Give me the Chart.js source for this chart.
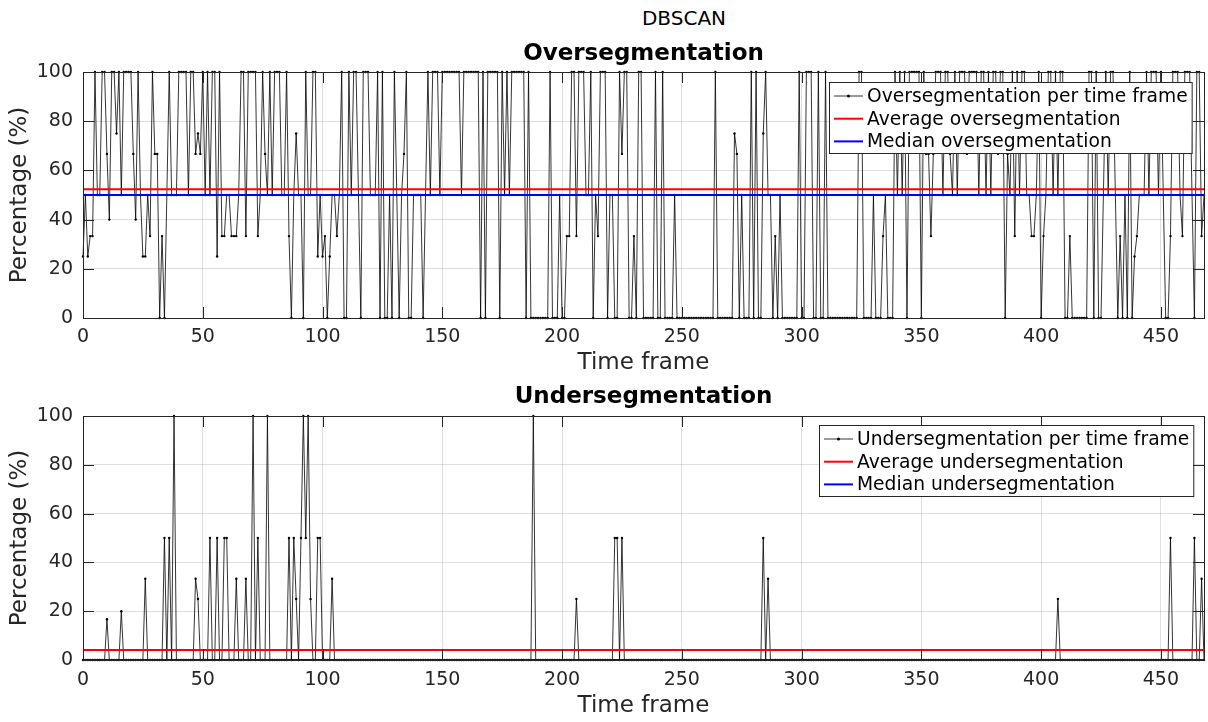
<!DOCTYPE html>
<html>
<head>
<meta charset="utf-8">
<script src="https://cdn.jsdelivr.net/npm/chart.js@4.4.0/dist/chart.umd.min.js"></script>
<style>
body{margin:0;background:#fff;width:1208px;height:722px;overflow:hidden;position:relative;font-family:"DejaVu Sans",sans-serif}
#suptitle{position:absolute;left:484px;top:6px;width:400px;text-align:center;font-size:20px;line-height:24px;color:#000}
.holder{position:absolute;left:0;width:1208px}
</style>
</head>
<body>
<div id="suptitle">DBSCAN</div>
<div class="holder" style="top:30px;height:350px"><canvas id="over" width="1208" height="350"></canvas></div>
<div class="holder" style="top:380px;height:342px"><canvas id="under" width="1208" height="342"></canvas></div>
<script>
// values, one per time frame (0..468)
var overPct = [
  25,50,25,33.3,33.3,100,50,50,100,100,66.7,40,100,100,75,100,50,100,100,100,
  100,66.7,40,100,50,25,25,50,33.3,100,66.7,66.7,0,33.3,0,50,100,50,50,50,
  100,100,100,100,50,100,100,66.7,75,66.7,100,50,100,50,100,100,25,100,33.3,33.3,
  50,50,33.3,33.3,33.3,50,100,100,33.3,100,100,100,100,33.3,50,100,66.7,50,100,50,
  100,100,100,50,50,100,33.3,0,50,75,50,50,0,100,50,50,100,100,25,50,
  25,33.3,0,25,50,50,33.3,50,100,0,0,100,50,100,100,50,0,100,100,100,
  50,50,50,100,0,100,0,0,50,0,100,50,0,50,66.7,100,0,0,50,50,
  50,50,0,50,100,50,100,100,100,50,100,100,100,100,100,100,100,100,50,100,
  100,100,100,100,100,100,0,100,0,100,100,100,100,100,0,100,50,100,50,100,
  100,100,100,100,100,0,100,0,0,0,0,0,0,0,0,100,0,0,0,50,
  0,0,33.3,33.3,100,100,33.3,100,100,100,50,50,100,0,50,33.3,100,100,100,0,
  50,50,0,0,100,66.7,100,100,0,0,33.3,0,100,100,0,0,0,0,0,100,
  0,0,100,0,0,0,0,50,0,0,0,0,0,0,0,0,0,0,0,0,
  0,0,0,0,100,0,0,0,0,0,0,0,75,66.7,0,50,0,0,0,100,
  0,100,0,0,75,100,50,50,0,33.3,0,50,0,0,0,0,0,0,0,100,
  0,0,100,100,100,0,0,100,0,0,100,0,0,0,0,0,0,0,0,0,
  0,0,0,0,100,100,0,0,0,0,50,0,0,0,33.3,50,0,0,0,100,
  50,100,50,100,0,100,100,100,100,100,0,100,66.7,66.7,33.3,66.7,100,100,100,50,
  100,100,66.7,50,100,50,100,100,100,66.7,100,100,100,100,50,100,100,50,100,50,
  100,100,66.7,100,100,0,66.7,50,100,33.3,100,50,100,100,50,50,33.3,33.3,50,100,
  0,33.3,50,100,100,50,100,50,100,100,0,0,33.3,0,0,0,0,0,0,0,
  100,100,0,100,0,0,50,100,50,100,100,50,0,33.3,0,50,0,100,0,25,
  33.3,50,50,50,100,50,100,100,100,50,100,50,0,0,33.3,100,100,100,50,33.3,
  100,100,100,50,0,100,100,33.3,50
];
var underPct = [
  0,0,0,0,0,0,0,0,0,0,16.7,0,0,0,0,0,20,0,0,0,
  0,0,0,0,0,0,33.3,0,0,0,0,0,0,0,50,0,50,0,100,0,
  0,0,0,0,0,0,0,33.3,25,0,0,0,0,50,0,0,50,0,0,50,
  50,0,0,0,33.3,0,0,0,33.3,0,0,100,0,50,0,0,0,100,0,0,
  0,0,0,0,0,0,50,0,50,25,0,50,100,50,100,25,0,0,50,50,
  0,0,0,0,33.3,0,0,0,0,0,0,0,0,0,0,0,0,0,0,0,
  0,0,0,0,0,0,0,0,0,0,0,0,0,0,0,0,0,0,0,0,
  0,0,0,0,0,0,0,0,0,0,0,0,0,0,0,0,0,0,0,0,
  0,0,0,0,0,0,0,0,0,0,0,0,0,0,0,0,0,0,0,0,
  0,0,0,0,0,0,0,0,100,0,0,0,0,0,0,0,0,0,0,0,
  0,0,0,0,0,0,25,0,0,0,0,0,0,0,0,0,0,0,0,0,
  0,0,50,50,0,50,0,0,0,0,0,0,0,0,0,0,0,0,0,0,
  0,0,0,0,0,0,0,0,0,0,0,0,0,0,0,0,0,0,0,0,
  0,0,0,0,0,0,0,0,0,0,0,0,0,0,0,0,0,0,0,0,
  0,0,0,0,50,0,33.3,0,0,0,0,0,0,0,0,0,0,0,0,0,
  0,0,0,0,0,0,0,0,0,0,0,0,0,0,0,0,0,0,0,0,
  0,0,0,0,0,0,0,0,0,0,0,0,0,0,0,0,0,0,0,0,
  0,0,0,0,0,0,0,0,0,0,0,0,0,0,0,0,0,0,0,0,
  0,0,0,0,0,0,0,0,0,0,0,0,0,0,0,0,0,0,0,0,
  0,0,0,0,0,0,0,0,0,0,0,0,0,0,0,0,0,0,0,0,
  0,0,0,0,0,0,0,25,0,0,0,0,0,0,0,0,0,0,0,0,
  0,0,0,0,0,0,0,0,0,0,0,0,0,0,0,0,0,0,0,0,
  0,0,0,0,0,0,0,0,0,0,0,0,0,0,50,0,0,0,0,0,
  0,0,0,0,50,0,0,33.3,0
];
var overAvg = 52.3, overMedian = 50;
var underAvg = 4.1, underMedian = 0;
var frameMax = 468;
var xTicks = [0,50,100,150,200,250,300,350,400,450];
var yTicks = [0,20,40,60,80,100];

Chart.defaults.font.family = '"DejaVu Sans", sans-serif';
Chart.defaults.color = '#262626';

// axes box + inward tick marks like matlab
var axesBox = {
  id: 'axesBox',
  afterDatasetsDraw: function (chart) {
    var ctx = chart.ctx, a = chart.chartArea, x = chart.scales.x, y = chart.scales.y;
    ctx.save();
    ctx.strokeStyle = '#262626';
    ctx.lineWidth = 1;
    ctx.beginPath();
    x.ticks.forEach(function (t) {
      var px = Math.round(x.getPixelForValue(t.value)) + 0.5;
      ctx.moveTo(px, a.bottom); ctx.lineTo(px, a.bottom - 11);
      ctx.moveTo(px, a.top); ctx.lineTo(px, a.top + 11);
    });
    y.ticks.forEach(function (t) {
      var py = Math.round(y.getPixelForValue(t.value)) + 0.5;
      ctx.moveTo(a.left, py); ctx.lineTo(a.left + 11, py);
      ctx.moveTo(a.right, py); ctx.lineTo(a.right - 11, py);
    });
    ctx.stroke();
    ctx.strokeRect(Math.round(a.left) + 0.5, Math.round(a.top) + 0.5, Math.round(a.right - a.left), Math.round(a.bottom - a.top));
    ctx.restore();
  }
};

// legend drawn inside the plot, top right
var insideLegend = {
  id: 'insideLegend',
  afterDraw: function (chart, args, opts) {
    var ctx = chart.ctx, a = chart.chartArea, sets = chart.data.datasets;
    ctx.save();
    ctx.font = '18.7px "DejaVu Sans"';
    var textW = 0;
    sets.forEach(function (d) { textW = Math.max(textW, ctx.measureText(d.label).width); });
    var w = 38 + textW + 4, h = 71;
    var left = Math.round(a.right - opts.right - w), top = Math.round(a.top + opts.top);
    ctx.fillStyle = '#fff';
    ctx.fillRect(left, top, w, h);
    ctx.strokeStyle = '#262626';
    ctx.lineWidth = 1;
    ctx.strokeRect(left + 0.5, top + 0.5, w, h);
    sets.forEach(function (d, i) {
      var cy = top + 14 + i * 22.7;
      ctx.strokeStyle = d.borderColor;
      ctx.lineWidth = d.borderWidth;
      ctx.beginPath(); ctx.moveTo(left + 5, cy); ctx.lineTo(left + 34, cy); ctx.stroke();
      if (d.pointRadius > 0) {
        ctx.fillStyle = d.borderColor;
        ctx.beginPath(); ctx.arc(left + 19.5, cy, 1.5, 0, Math.PI * 2); ctx.fill();
      }
      ctx.fillStyle = '#000';
      ctx.textBaseline = 'middle';
      ctx.fillText(d.label, left + 38, cy + 1);
    });
    ctx.restore();
  }
};

function toPoints(vals) {
  return vals.map(function (v, i) { return { x: i, y: v }; });
}
function flat(v) {
  return [{ x: 0, y: v }, { x: frameMax, y: v }];
}

function makeChart(id, vals, avg, med, names, title, lay) {
  return new Chart(document.getElementById(id), {
    type: 'line',
    data: {
      datasets: [
        { label: names[0], data: toPoints(vals), borderColor: '#000', borderWidth: 0.8,
          pointRadius: 1.2, pointBackgroundColor: '#000', pointBorderWidth: 0, tension: 0, clip: 6, order: 2 },
        { label: names[1], data: flat(avg), borderColor: '#ff0000', borderWidth: 2, pointRadius: 0, clip: 6, order: 1 },
        { label: names[2], data: flat(med), borderColor: '#0000ff', borderWidth: 2, pointRadius: 0, clip: 6, order: 0 }
      ]
    },
    options: {
      responsive: false,
      animation: false,
      events: [],
      layout: { padding: { left: 0, right: 4, top: 0, bottom: 0 } },
      plugins: {
        legend: { display: false },
        tooltip: { enabled: false },
        title: { display: true, fullSize: false, text: title, color: '#000', font: { size: 23, weight: 'bold' },
          padding: { top: lay.titleTop, bottom: lay.titleBottom } },
        insideLegend: { right: lay.legRight, top: lay.legTop }
      },
      scales: {
        x: {
          type: 'linear', min: 0, max: frameMax,
          ticks: { stepSize: 50, padding: lay.xTickPad, font: { size: 19 }, color: '#262626', maxRotation: 0 },
          afterBuildTicks: function (s) { s.ticks = xTicks.map(function (v) { return { value: v }; }); },
          afterFit: function (s) { s.height = lay.xHeight; },
          grid: { color: 'rgba(38,38,38,0.15)', drawTicks: false },
          border: { display: false },
          title: { display: true, text: 'Time frame', color: '#262626', font: { size: 23 }, padding: { top: 0, bottom: lay.xTitlePad } }
        },
        y: {
          min: 0, max: 100,
          ticks: { stepSize: 20, padding: 10, font: { size: 19 }, color: '#262626' },
          afterBuildTicks: function (s) { s.ticks = yTicks.map(function (v) { return { value: v }; }); },
          afterFit: function (s) { s.width = 83; },
          grid: { color: 'rgba(38,38,38,0.15)', drawTicks: false },
          border: { display: false },
          title: { display: true, text: 'Percentage (%)', color: '#262626', font: { size: 23 }, padding: { top: 6.2, bottom: 0 } }
        }
      }
    },
    plugins: [axesBox, insideLegend]
  });
}

makeChart('over', overPct, overAvg, overMedian,
  ['Oversegmentation per time frame', 'Average oversegmentation', 'Median oversegmentation'],
  'Oversegmentation',
  { titleTop: 10.2, titleBottom: 4.2, xHeight: 62, xTickPad: 7.6, xTitlePad: 3.2, legRight: 12, legTop: 10 });

makeChart('under', underPct, underAvg, underMedian,
  ['Undersegmentation per time frame', 'Average undersegmentation', 'Median undersegmentation'],
  'Undersegmentation',
  { titleTop: 3.2, titleBottom: 5.2, xHeight: 62, xTickPad: 8.6, xTitlePad: 2.2, legRight: 11, legTop: 9 });
</script>
</body>
</html>
